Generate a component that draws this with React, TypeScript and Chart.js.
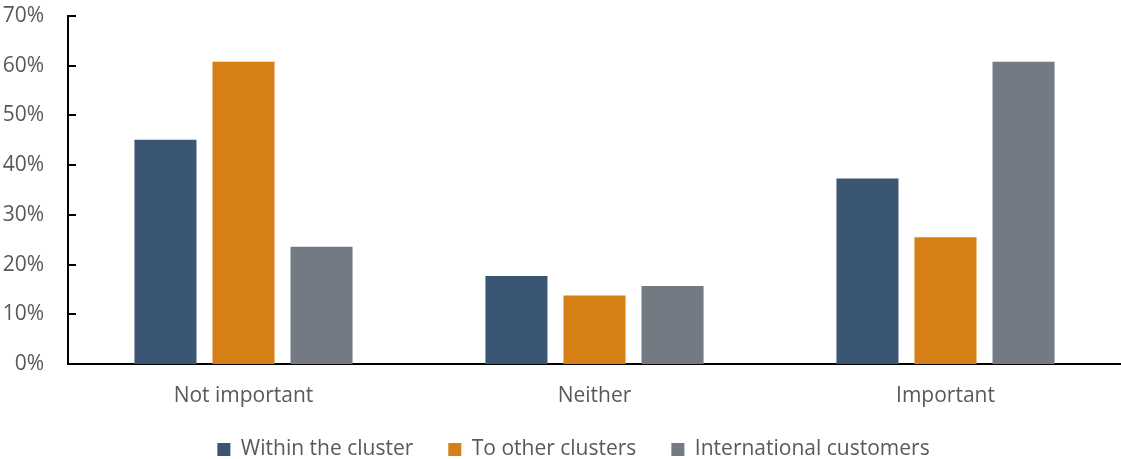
import React, { useEffect, useRef } from "react";
import { Chart, registerables } from "chart.js";

Chart.register(...registerables);

const categories = ["Not important", "Neither", "Important"];
const seriesNames = ["Within the cluster", "To other clusters", "International customers"];
const withinCluster = [45.1, 17.7, 37.3];
const otherClusters = [60.8, 13.8, 25.5];
const international = [23.6, 15.7, 60.8];
const colors = ["#3A5673", "#D77F17", "#737A83"];
const yTicks = [0, 10, 20, 30, 40, 50, 60, 70];

const FONT = "'Open Sans', sans-serif";
const FS = 21;

const layoutTweaks = {
  id: "layoutTweaks",
  beforeLayout(chart: any) {
    const lg = chart.legend;
    if (lg && !lg.__patched) {
      const orig = lg.fit.bind(lg);
      lg.fit = function () {
        orig();
        this.height = 33;
      };
      lg.__patched = true;
    }
  },
  afterLayout(chart: any) {
    const lg = chart.legend;
    if (lg) {
      lg.top = 404;
      lg.bottom = 459;
      lg.height = 55;
      lg.left = 26;
      lg.right = 1121;
      lg.width = 1095;
    }
  },
  afterDraw(chart: any) {
    const ctx = chart.ctx;
    const y = chart.scales.y;
    const x = chart.scales.x;
    ctx.save();
    ctx.strokeStyle = "#000";
    ctx.lineWidth = 2;
    ctx.beginPath();
    for (const v of yTicks) {
      const py = Math.round(y.getPixelForValue(v));
      ctx.moveTo(x.left, py);
      ctx.lineTo(x.left + 8, py);
    }
    ctx.stroke();
    ctx.restore();
  },
};

export default function App() {
  const ref = useRef<HTMLCanvasElement>(null);
  useEffect(() => {
    if (!ref.current) return;
    const series = [withinCluster, otherClusters, international];
    const chart = new Chart(ref.current, {
      type: "bar",
      data: {
        labels: categories,
        datasets: series.map((d, i) => ({
          label: seriesNames[i],
          data: d,
          backgroundColor: colors[i],
          borderWidth: 0,
          categoryPercentage: 0.667,
          barPercentage: 0.795,
        })),
      },
      plugins: [layoutTweaks],
      options: {
        animation: false,
        responsive: false,
        maintainAspectRatio: false,
        layout: { padding: { top: 16, right: 0, left: 0, bottom: 0 } },
        plugins: {
          tooltip: { enabled: false },
          legend: {
            position: "bottom",
            labels: {
              font: { family: FONT, size: FS },
              color: "#595959",
              boxWidth: 13,
              boxHeight: 13,
              padding: 35,
            },
          },
        },
        scales: {
          x: {
            grid: { display: false, drawTicks: false },
            border: { display: true, color: "#000", width: 2 },
            ticks: { font: { family: FONT, size: FS }, color: "#595959", padding: 19 },
            afterFit: (s: any) => { s.height = 62; },
          },
          y: {
            min: 0,
            max: 70,
            grid: { display: false, drawTicks: true, tickLength: 24, tickColor: "rgba(0,0,0,0)" },
            border: { display: true, color: "#000", width: 2 },
            ticks: {
              stepSize: 10,
              font: { family: FONT, size: FS },
              color: "#595959",
              padding: 0,
              callback: (v: any) => v + "%",
            },
            afterFit: (s: any) => { s.width = 68; },
          },
        },
      },
    });
    return () => chart.destroy();
  }, []);
  return (
    <div style={{ position: "fixed", left: 0, top: 0, width: 1121, height: 459, background: "#fff" }}>
      <canvas ref={ref} width={1121} height={459} style={{ display: "block" }} />
    </div>
  );
}
